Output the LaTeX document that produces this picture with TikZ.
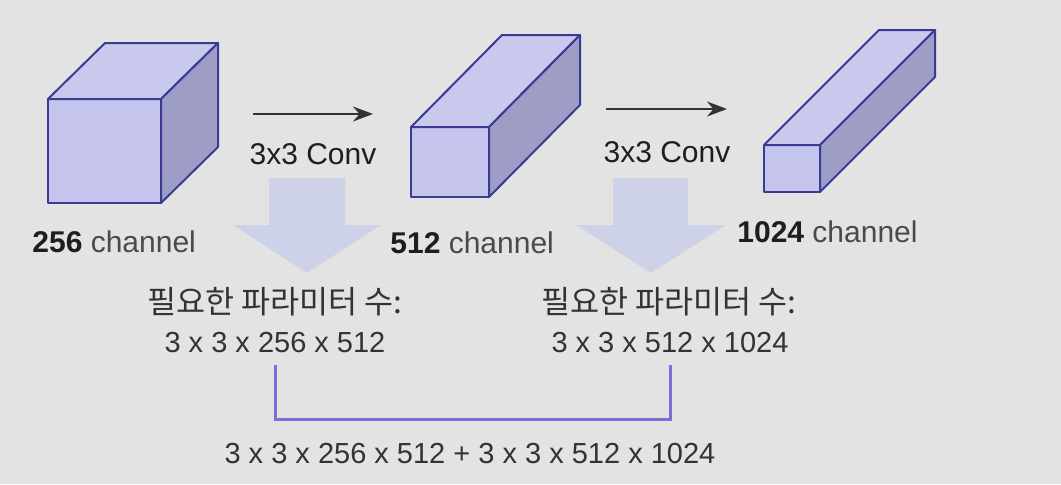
\documentclass[tikz,border=0pt]{standalone}
\usepackage{fontspec}
\setmainfont{Liberation Sans}
\newfontfamily\kofont{Noto Sans CJK KR}
\usetikzlibrary{arrows.meta, positioning}
\definecolor{Canvas}{HTML}{E3E3E3}
\definecolor{Edge}{HTML}{3B3B96}
\definecolor{FrontFace}{HTML}{C4C4EC}
\definecolor{TopFace}{HTML}{C9C9EE}
\definecolor{SideFace}{HTML}{9D9DC6}
\definecolor{Hint}{HTML}{CED2E8}
\definecolor{Bracket}{HTML}{7E6FD6}
\definecolor{Ink}{HTML}{1E1E1E}
\definecolor{Gray70}{HTML}{4A4A4A}
\definecolor{Gray80}{HTML}{333333}
\tikzset{
  front/.style={fill=FrontFace, draw=Edge, line width=1pt, line join=round},
  topface/.style={fill=TopFace, draw=Edge, line width=1pt, line join=round},
  sideface/.style={fill=SideFace, draw=Edge, line width=1pt, line join=round},
  chlabel/.style={anchor=base west, inner sep=0pt,
                  font=\fontsize{15}{18}\selectfont, text=Gray70},
  convlabel/.style={anchor=base, inner sep=0pt,
                  font=\fontsize{15}{18}\selectfont, text=Ink},
  partext/.style={anchor=base, inner sep=0pt,
                  font=\fontsize{14.5}{18}\selectfont, text=Gray80},
  kotext/.style={partext, font=\kofont\fontsize{15.8}{18}\selectfont},
}

\begin{document}
\begin{tikzpicture}[
          x=0.5pt, y=-0.5pt,
          arr/.style={-{Stealth[length=10pt, width=7.5pt]}, line width=1pt, color=Gray80},
          bracket/.style={line width=1.5pt, color=Bracket},
          hint/.style={fill=Hint}
        ]
          \useasboundingbox[fill=Canvas] (0,0) rectangle (1061,484);

          % feature maps
          \draw[front] (48,99) rectangle (161,203);
          \draw[topface] (48,99) -- ++(57,-56) -- ++(113,0) -- (161,99) -- cycle;
          \draw[sideface] (161,99) -- ++(57,-56) -- ++(0,104) -- (161,203) -- cycle;

          \draw[front] (411,127) rectangle (489,197);
          \draw[topface] (411,127) -- ++(91,-92) -- ++(78,0) -- (489,127) -- cycle;
          \draw[sideface] (489,127) -- ++(91,-92) -- ++(0,70) -- (489,197) -- cycle;

          \draw[front] (764,145) rectangle (820,192);
          \draw[topface] (764,145) -- ++(115,-115) -- ++(56,0) -- (820,145) -- cycle;
          \draw[sideface] (820,145) -- ++(115,-115) -- ++(0,47) -- (820,192) -- cycle;

          % big hint arrows
          \fill[hint] (269,178) -- (345,178) -- (345,225) -- (381,225)
            -- (307,273) -- (233,225) -- (269,225) -- cycle;
          \fill[hint] (613,178) -- (688,178) -- (688,225) -- (726,225)
            -- (651,273) -- (576,225) -- (613,225) -- cycle;

          % conv arrows
          \coordinate (a1s) at (253,114);
          \coordinate (a1e) at (373,114);
          \coordinate (a2s) at (606,109);
          \coordinate (a2e) at (727,109);
          \draw[arr] (a1s) -- (a1e);
          \draw[arr] (a2s) -- (a2e);
          \node[convlabel] (conv1) at (313,164) {3x3 Conv};
          \node[convlabel] (conv2) at (667,162) {3x3 Conv};

          % channel labels
          \node[chlabel] (ch1) at (32,252) {\textcolor{Ink}{\textbf{256}} channel};
          \node[chlabel] (ch2) at (390,253) {\textcolor{Ink}{\textbf{512}} channel};
          \node[chlabel] (ch3) at (737,242) {\textcolor{Ink}{\textbf{1024}} channel};

          % parameter counts
          \node[kotext] (need1) at (275,313) {필요한 파라미터 수:};
          \node[partext] (cnt1) at (275,352) {3 x 3 x 256 x 512};
          \node[kotext] (need2) at (669,313) {필요한 파라미터 수:};
          \node[partext] (cnt2) at (670,352) {3 x 3 x 512 x 1024};

          \coordinate (b1) at (275,365);
          \coordinate (b2) at (670,365);
          \draw[bracket] (b1) -- ++(0,54) -| (b2);

          \node[partext] (total) at (470,463) {3 x 3 x 256 x 512 + 3 x 3 x 512 x 1024};
        \end{tikzpicture}
\end{document}
